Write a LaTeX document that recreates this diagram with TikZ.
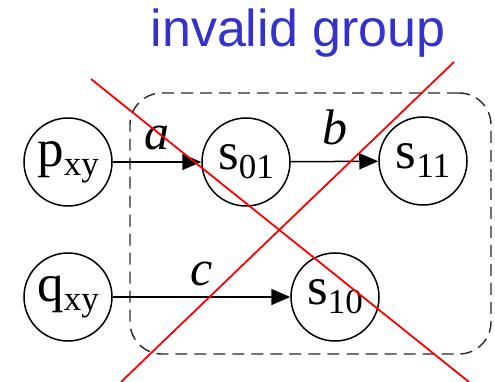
\documentclass[tikz,border=0pt]{standalone}
\usepackage{fontspec}
\setmainfont{Liberation Serif}
\newfontfamily\titlefont{Liberation Sans}
\usetikzlibrary{arrows.meta}
\definecolor{azul}{RGB}{51,51,204}
\definecolor{rojo}{RGB}{255,0,0}
\definecolor{grisf}{RGB}{40,40,40}
\newcommand{\st}[2]{#1\raisebox{-9pt}{\fontsize{35}{35}\selectfont #2}}
\tikzset{
  estado/.style={draw, circle, line width=1.5pt, minimum size=88pt, inner sep=0pt, font=\fontsize{53}{53}\selectfont},
  grupo/.style={draw=grisf, dashed, dash pattern=on 12pt off 7pt, line width=1.4pt, rounded corners=32pt, minimum width=361pt, minimum height=261pt},
  fl/.style={-{Triangle[length=19pt,width=16pt]}, line width=1.5pt},
  et/.style={font=\fontsize{50}{50}\selectfont\itshape, inner sep=0pt},
  tache/.style={draw=rojo, line width=1.8pt},
}

\begin{document}
\begin{tikzpicture}[x=1pt, y=-1pt]
  \useasboundingbox (0,0) rectangle (495,382);
  \node[font=\fontsize{52}{52}\selectfont\titlefont, text=azul] (tit) at (298,33) {invalid group};
  \node[grupo] (grp) at (310.5,223.5) {};
  \node[estado] (p) at (68,162) {\st{p}{xy}};
  \node[estado] (q) at (68,297) {\st{q}{xy}};
  \node[estado] (s01) at (246,162) {\st{s}{01}};
  \node[estado] (s11) at (423,161) {\st{s}{11}};
  \node[estado] (s10) at (335,297) {\st{s}{10}};
  \draw[fl] (p) -- node[et, above=11pt] {a} (s01);
  \draw[fl] (s01) -- node[et, above=16pt] {b} (s11);
  \draw[fl] (q) -- node[et, above=10pt] {c} (s10);
  % the cross over the group
  \coordinate (x1a) at (91,79);
  \coordinate (x1b) at (469,382);
  \coordinate (x2a) at (121,382);
  \coordinate (x2b) at (454,62);
  \draw[tache] (x1a) -- (x1b);
  \draw[tache] (x2a) -- (x2b);
\end{tikzpicture}
\end{document}
